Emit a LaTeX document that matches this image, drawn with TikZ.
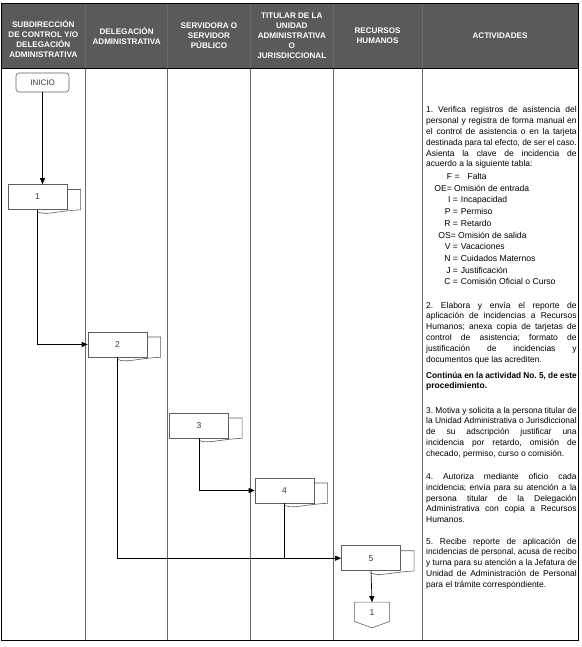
\documentclass[tikz,border=0pt]{standalone}
\usepackage{fontspec}
\usepackage{graphicx}
\setmainfont{Liberation Sans}
\usetikzlibrary{arrows.meta,calc}
\frenchspacing
\definecolor{hdr}{RGB}{90,90,90}
\definecolor{boxline}{RGB}{95,95,95}
\definecolor{rulecol}{RGB}{105,105,105}
\definecolor{lbl}{RGB}{55,55,55}
\newlength\actw \setlength\actw{150.5pt}
\newsavebox\lnbox
\newcommand\JL[1]{\sbox\lnbox{#1}\ifdim\wd\lnbox>\actw\hbox{\resizebox{\actw}{\ht\lnbox}{\usebox\lnbox}}\else\hbox to \actw{#1}\fi}
\newcommand\LL[1]{\hbox{#1}}
\newcommand\ParBlock[1]{\vtop{\frenchspacing\baselineskip=10.8pt\lineskiplimit=-20pt #1}}
\newcommand\doctab[1]{%
  \draw[boxline, line width=0.6pt] ($(#1.north east)+(0,5.3)$) -- ++(13.3,0)
    -- ($(#1.south east)+(13.3,0)$)
    .. controls ($(#1.south)+(20,1)$) and ($(#1.south)+(8,6)$) .. ($(#1.south)+(0,2)$);}
\begin{document}
\begin{tikzpicture}[x=1pt,y=-1pt,
  hdrtext/.style={text=white, font=\fontsize{8.1}{10}\selectfont\bfseries, align=center, inner sep=0},
  acttext/.style={font=\fontsize{8.5}{10.8}\selectfont\frenchspacing, inner sep=0, anchor=base west},
  tabkey/.style={font=\fontsize{8.6}{10}\selectfont, inner sep=0, anchor=base east},
  tabval/.style={font=\fontsize{8.6}{10}\selectfont, inner sep=0, anchor=base west},
  procbox/.style={draw=boxline, line width=0.6pt, fill=white, minimum width=59pt, minimum height=25pt, inner sep=0, font=\fontsize{8.5}{10}\selectfont, text=lbl},
  startbox/.style={draw=boxline, line width=0.6pt, rounded corners=3pt, minimum width=53pt, minimum height=19pt, inner sep=0, font=\fontsize{8}{10}\selectfont, text=lbl},
  offpage/.style={minimum width=34.3pt, minimum height=25.4pt, inner sep=0},
  conn/.style={line width=0.7pt, black},
  arr/.style={conn, -{Triangle[length=6pt,width=5pt]}},
  colrule/.style={rulecol, line width=0.9pt}
]
\useasboundingbox[fill=white] (0,0) rectangle (581,647);
% header band and frame
\fill[hdr] (1,3) rectangle (578,68);
\foreach \x in {85.5,167.7,250.5,333,422} \draw[colrule] (\x,3) -- (\x,640);
\draw[black, line width=0.8pt] (1,3) rectangle (578,640);
\draw[black, line width=0.6pt] (1,68) -- (578,68);
% header texts
\node[hdrtext] (h1) at (43.3,38.5) {SUBDIRECCIÓN\\DE CONTROL Y/O\\DELEGACIÓN\\ADMINISTRATIVA};
\node[hdrtext] (h2) at (126.6,36) {DELEGACIÓN\\ADMINISTRATIVA};
\node[hdrtext] (h3) at (209,35.5) {SERVIDORA O\\SERVIDOR\\PÚBLICO};
\node[hdrtext] (h4) at (291.8,35.5) {TITULAR DE LA\\UNIDAD\\ADMINISTRATIVA\\O\\JURISDICCIONAL};
\node[hdrtext] (h5) at (377.5,36) {RECURSOS\\HUMANOS};
\node[hdrtext] (h6) at (500,36) {ACTIVIDADES};
% flow nodes
\node[startbox] (ini) at (42.5,82.5) {INICIO};
\node[procbox] (b1) at (37.5,197) {1};
\node[procbox] (b2) at (117.5,344.5) {2};
\node[procbox] (b3) at (199,425.5) {3};
\node[procbox] (b4) at (284.5,490.5) {4};
\node[procbox] (b5) at (371,558.2) {5};
\doctab{b1}
\doctab{b2}
\doctab{b3}
\doctab{b4}
\doctab{b5}
\node[offpage] (c1) at (372,615) {};
\draw[boxline, line width=0.6pt] (c1.north west) -- (c1.north east) -- ($(c1.north east)+(0,19.4)$)
  -- (c1.south) -- ($(c1.north west)+(0,19.4)$) -- cycle;
\node[font=\fontsize{8.5}{10}\selectfont, text=lbl, inner sep=0] (c1t) at ($(c1.center)+(0,-2.5)$) {1};
% connectors
\draw[arr] (ini.south) -- (ini.south |- b1.north);
\draw[arr] (b1.south) |- (b2.west);
\draw[arr] (b2.south) |- (b5.west);
\draw[arr] (b3.south) |- (b4.west);
\draw[conn] (b4.south) -- (b4.south |- b5.west);
\draw[arr] (b5.south) -- (c1.north);
% activities
\node[acttext] (a1) at (426,113) {\ParBlock{%
\JL{1. Verifica registros de asistencia del}
\JL{personal y registra de forma manual en}
\JL{el control de asistencia o en la tarjeta}
\JL{destinada para tal efecto, de ser el caso.}
\JL{Asienta la clave de incidencia de}
\LL{acuerdo a la siguiente tabla:}}};
% table
\node[tabval] (k1) at (446.7,179.6) {F =};
\node[tabval] (v1) at (467.3,179.6) {Falta};
\node[tabkey] (k2) at (452,191.2) {OE=};
\node[tabval] (v2) at (454,191.2) {Omisión de entrada};
\node[tabkey] (k3) at (458.2,202.9) {I =};
\node[tabval] (v3) at (460.7,202.9) {Incapacidad};
\node[tabkey] (k4) at (458.2,214.6) {P =};
\node[tabval] (v4) at (460.7,214.6) {Permiso};
\node[tabkey] (k5) at (458.2,226.3) {R =};
\node[tabval] (v5) at (460.7,226.3) {Retardo};
\node[tabkey] (k6) at (456,238) {OS=};
\node[tabval] (v6) at (458,238) {Omisión de salida};
\node[tabkey] (k7) at (458.2,249.7) {V =};
\node[tabval] (v7) at (460.7,249.7) {Vacaciones};
\node[tabkey] (k8) at (458.2,261.4) {N =};
\node[tabval] (v8) at (460.7,261.4) {Cuidados Maternos};
\node[tabkey] (k9) at (458.2,273.1) {J =};
\node[tabval] (v9) at (460.7,273.1) {Justificación};
\node[tabkey] (k10) at (458.2,284.8) {C =};
\node[tabval] (v10) at (460.7,284.8) {Comisión Oficial o Curso};
% activity 2
\node[acttext] (a2) at (426,308) {\ParBlock{%
\JL{2. Elabora y envía el reporte de}
\JL{aplicación de incidencias a Recursos}
\JL{Humanos; anexa copia de tarjetas de}
\JL{control de asistencia; formato de}
\JL{justificación de incidencias y}
\LL{documentos que las acrediten.}}};
\node[acttext, font=\fontsize{8.5}{10.8}\selectfont\bfseries\frenchspacing] (a2b) at (426,378) {\ParBlock{%
\JL{Continúa en la actividad No. 5, de este}
\LL{procedimiento.}}};
% activity 3
\node[acttext] (a3) at (426,413) {\ParBlock{%
\JL{3. Motiva y solicita a la persona titular de}
\JL{la Unidad Administrativa o Jurisdiccional}
\JL{de su adscripción justificar una}
\JL{incidencia por retardo, omisión de}
\LL{checado, permiso, curso o comisión.}}};
% activity 4
\node[acttext] (a4) at (426,479.5) {\ParBlock{%
\JL{4. Autoriza mediante oficio cada}
\JL{incidencia; envía para su atención a la}
\JL{persona titular de la Delegación}
\JL{Administrativa con copia a Recursos}
\LL{Humanos.}}};
% activity 5
\node[acttext] (a5) at (426,544) {\ParBlock{%
\JL{5. Recibe reporte de aplicación de}
\JL{incidencias de personal, acusa de recibo}
\JL{y turna para su atención a la Jefatura de}
\JL{Unidad de Administración de Personal}
\LL{para el trámite correspondiente.}}};
\end{tikzpicture}
\end{document}
